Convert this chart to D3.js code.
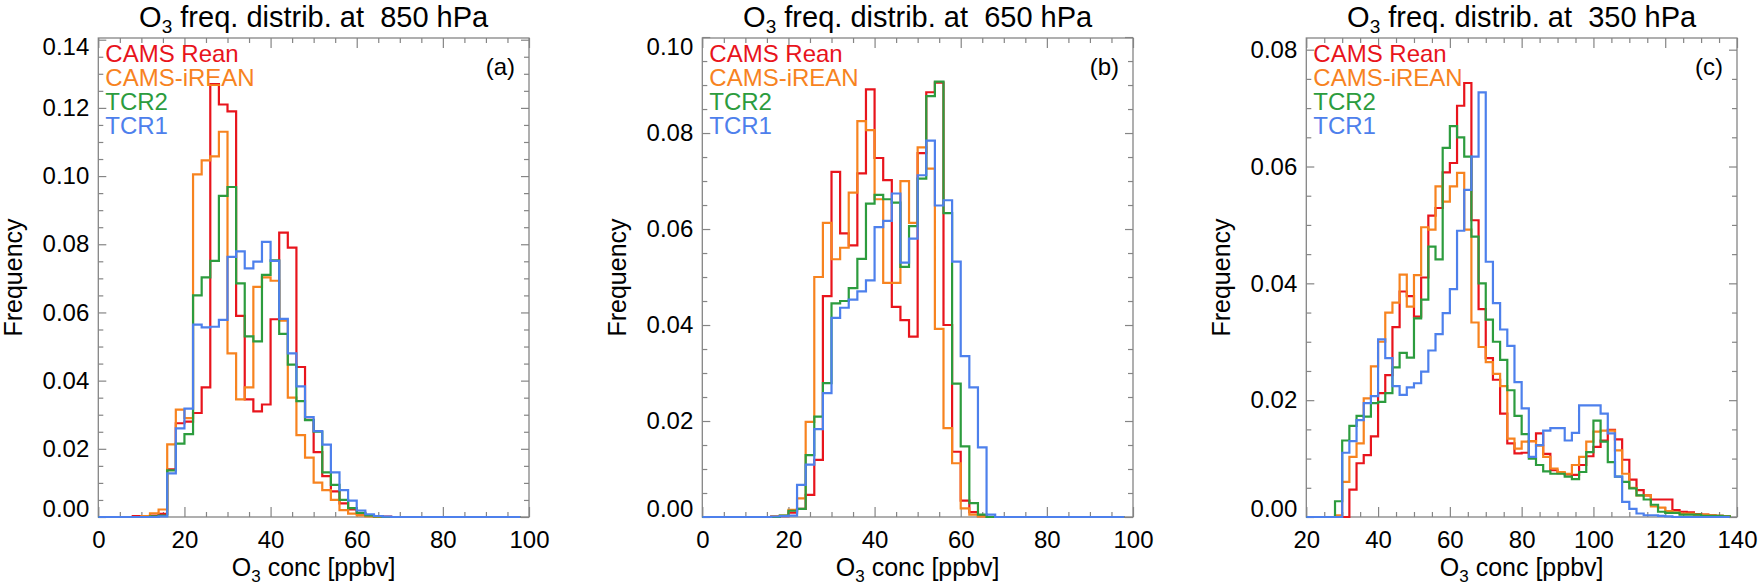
<!DOCTYPE html>
<html>
<head>
<meta charset="utf-8">
<script src="https://cdn.jsdelivr.net/npm/d3@7/dist/d3.min.js"></script>
<style>
  body { margin: 0; background: #fff; }
  svg text { font-family: "Liberation Sans", Arial, Helvetica, sans-serif; }
</style>
</head>
<body>
<svg id="chart" width="1762" height="586"></svg>
<script>
// series shared by the three panels
const seriesNames = ["CAMS Rean", "CAMS-iREAN", "TCR2", "TCR1"];
const seriesColors = ["#e8141c", "#f7831f", "#2c9c3e", "#4d80ec"];
const binWidth = 2; // ppbv

const levels = ["850", "650", "350"];
const panelTags = ["(a)", "(b)", "(c)"];
const xTicksAB = [0, 20, 40, 60, 80, 100];
const xTicksC = [20, 40, 60, 80, 100, 120, 140];
const yTicksA = [0, 0.02, 0.04, 0.06, 0.08, 0.10, 0.12, 0.14];
const yTicksB = [0, 0.02, 0.04, 0.06, 0.08, 0.10];
const yTicksC = [0, 0.02, 0.04, 0.06, 0.08];

// (a) 850 hPa, first bin starts at 8 ppbv
const binStartA = 8;
const reanA = [0.0003, 0.0003, 0.0004, 0.0009, 0.014, 0.0275, 0.028, 0.0305, 0.038, 0.127, 0.121, 0.119, 0.059, 0.0345, 0.031, 0.033, 0.058, 0.0834, 0.079, 0.044, 0.0285, 0.019, 0.012, 0.0075, 0.004, 0.0022, 0.001, 0.0005, 0.0002, 0.0001];
const ireanA = [0, 0.0003, 0.0011, 0.0022, 0.0213, 0.0315, 0.029, 0.1005, 0.1046, 0.1058, 0.113, 0.048, 0.0345, 0.038, 0.0675, 0.0703, 0.0693, 0.0576, 0.035, 0.024, 0.0174, 0.0101, 0.0079, 0.005, 0.002, 0.001, 0.0005, 0.0002, 0, 0];
const tcr2A = [0, 0, 0.0002, 0.0004, 0.0137, 0.0215, 0.0243, 0.065, 0.0703, 0.0751, 0.0942, 0.0968, 0.0685, 0.053, 0.0515, 0.071, 0.0753, 0.0537, 0.0447, 0.034, 0.0284, 0.025, 0.0131, 0.0094, 0.005, 0.0026, 0.0012, 0.0005, 0.0002, 0];
const tcr1A = [0, 0, 0, 0.0002, 0.0128, 0.026, 0.0318, 0.0564, 0.0556, 0.0558, 0.0578, 0.0763, 0.0779, 0.0729, 0.0749, 0.0807, 0.0751, 0.0581, 0.048, 0.0383, 0.0293, 0.0252, 0.0212, 0.0131, 0.0079, 0.0048, 0.0019, 0.0008, 0.0003, 0.0001];

// (b) 650 hPa, first bin starts at 16 ppbv
const binStartB = 16;
const reanB = [0, 0.0002, 0.0009, 0.0017, 0.0046, 0.0119, 0.046, 0.0719, 0.0591, 0.0566, 0.0716, 0.0891, 0.0748, 0.0702, 0.0438, 0.041, 0.0376, 0.0758, 0.0885, 0.0905, 0.040, 0.0136, 0.0034, 0.001, 0.0002, 0];
const ireanB = [0.0002, 0.0003, 0.0015, 0.0039, 0.0198, 0.050, 0.0613, 0.0537, 0.0561, 0.0676, 0.0825, 0.0806, 0.0662, 0.0488, 0.0488, 0.070, 0.0613, 0.077, 0.0726, 0.0392, 0.0185, 0.0112, 0.0018, 0.0005, 0.0001, 0];
const tcr2B = [0, 0.0003, 0.0013, 0.0017, 0.0129, 0.0209, 0.0279, 0.0445, 0.045, 0.0477, 0.0538, 0.0653, 0.0671, 0.0662, 0.0655, 0.0521, 0.0606, 0.0705, 0.0877, 0.0907, 0.0633, 0.0278, 0.0147, 0.0029, 0.0005, 0];
const tcr1B = [0.0001, 0.0002, 0.0003, 0.0067, 0.0109, 0.0183, 0.0258, 0.0415, 0.0436, 0.0453, 0.047, 0.0493, 0.0604, 0.0617, 0.0674, 0.053, 0.058, 0.0712, 0.0784, 0.0649, 0.066, 0.0532, 0.0335, 0.027, 0.0145, 0.0005];

// (c) 350 hPa, first bin starts at 28 ppbv
const binStartC = 28;
const reanC = [0, 0, 0.0047, 0.0092, 0.0106, 0.0138, 0.0212, 0.0243, 0.0325, 0.0386, 0.0378, 0.0343, 0.041, 0.0516, 0.0529, 0.059, 0.0606, 0.0704, 0.0743, 0.0508, 0.0356, 0.0272, 0.0235, 0.0177, 0.0126, 0.0109, 0.011, 0.013, 0.0143, 0.0108, 0.008, 0.0075, 0.0073, 0.0072, 0.0089, 0.0104, 0.012, 0.0131, 0.0149, 0.0133, 0.0098, 0.0064, 0.0046, 0.0037, 0.003, 0.003, 0.003, 0.0012, 0.0009, 0.0008, 0.0005, 0.0004, 0.0003, 0.0002, 0.0001];
const ireanC = [0.0003, 0.006, 0.0103, 0.0126, 0.0203, 0.0258, 0.030, 0.035, 0.0367, 0.0415, 0.036, 0.0414, 0.0496, 0.0492, 0.0566, 0.054, 0.0566, 0.0589, 0.0492, 0.0333, 0.0291, 0.0265, 0.0245, 0.0224, 0.0134, 0.0117, 0.0129, 0.013, 0.0122, 0.0103, 0.0083, 0.0077, 0.0074, 0.0089, 0.0103, 0.0129, 0.0146, 0.0148, 0.0148, 0.0114, 0.0074, 0.005, 0.0037, 0.0037, 0.0018, 0.0016, 0.001, 0.0008, 0.0006, 0.0006, 0.0004, 0.0004, 0.0003, 0.0002, 0.0001];
const tcr2C = [0.0027, 0.0131, 0.0156, 0.0173, 0.0172, 0.0195, 0.0197, 0.0212, 0.0256, 0.0281, 0.0273, 0.034, 0.0372, 0.0463, 0.0441, 0.0632, 0.0669, 0.065, 0.0617, 0.048, 0.040, 0.0338, 0.030, 0.0269, 0.0217, 0.0173, 0.0142, 0.010, 0.0089, 0.0078, 0.0074, 0.0074, 0.0069, 0.0065, 0.0077, 0.0111, 0.0165, 0.0129, 0.0094, 0.0069, 0.006, 0.0049, 0.0037, 0.003, 0.0021, 0.0009, 0.0007, 0.0007, 0.0004, 0.0004, 0.0004, 0.0002, 0.0002, 0.0002, 0.0001];
const tcr1C = [0, 0.011, 0.013, 0.0166, 0.0195, 0.0207, 0.0304, 0.0272, 0.0224, 0.0209, 0.0222, 0.0229, 0.0249, 0.0285, 0.0313, 0.0349, 0.039, 0.049, 0.056, 0.0617, 0.0727, 0.0437, 0.0366, 0.0321, 0.0293, 0.0231, 0.0186, 0.0103, 0.0123, 0.0148, 0.0152, 0.0152, 0.0131, 0.0144, 0.0191, 0.0191, 0.0191, 0.0177, 0.0143, 0.0069, 0.0026, 0.0014, 0.0006, 0.0003, 0.0003, 0.0002, 0.0001, 0, 0, 0, 0, 0, 0, 0, 0];

const panels = [
  { xDomain: [0, 100], xTicks: xTicksAB, yMax: 0.1405, yTicks: yTicksA, binStart: binStartA, lineEnd: 98, series: [reanA, ireanA, tcr2A, tcr1A] },
  { xDomain: [0, 100], xTicks: xTicksAB, yMax: 0.0998, yTicks: yTicksB, binStart: binStartB, lineEnd: 98, series: [reanB, ireanB, tcr2B, tcr1B] },
  { xDomain: [20, 140], xTicks: xTicksC, yMax: 0.082, yTicks: yTicksC, binStart: binStartC, lineEnd: 138, series: [reanC, ireanC, tcr2C, tcr1C] },
];

const svg = d3.select("#chart");
const axisGrey = "#858585";
const plotW = 430.7;
const plotTop = 38;
const plotBottom = 517;
const fmt = d3.format(".2f");

const styleAxis = (sel) => {
  sel.select(".domain").remove();
  sel.selectAll(".tick line").attr("stroke", axisGrey).attr("stroke-width", 1.2);
  sel.selectAll(".tick text").attr("fill", "#000").attr("font-size", 24);
};

panels.forEach((p, i) => {
  const left = 98.3 + i * 604;
  const right = left + plotW;
  const x = d3.scaleLinear().domain(p.xDomain).range([left, right]);
  const y = d3.scaleLinear().domain([0, p.yMax]).range([plotBottom, plotTop]);
  const g = svg.append("g");

  const xMinor = d3.range(p.xDomain[0], p.xDomain[1] + 0.1, 5).filter((v) => !p.xTicks.includes(v));
  const yMinor = d3.range(0, p.yMax + 1e-9, 0.005)
    .map((v) => +v.toFixed(3))
    .filter((v) => !p.yTicks.some((t) => Math.abs(t - v) < 1e-9));

  // 刻度朝内，四边都有
  g.append("g").attr("transform", `translate(0,${plotBottom})`)
    .call(d3.axisBottom(x).tickValues(xMinor).tickSize(-5).tickFormat("")).call(styleAxis);
  g.append("g").attr("transform", `translate(0,${plotBottom})`)
    .call(d3.axisBottom(x).tickValues(p.xTicks).tickSize(-10).tickPadding(14).tickFormat((d) => d))
    .call(styleAxis);
  g.append("g").attr("transform", `translate(0,${plotTop})`)
    .call(d3.axisTop(x).tickValues(xMinor).tickSize(-5).tickFormat("")).call(styleAxis);
  g.append("g").attr("transform", `translate(0,${plotTop})`)
    .call(d3.axisTop(x).tickValues(p.xTicks).tickSize(-10).tickFormat("")).call(styleAxis);

  g.append("g").attr("transform", `translate(${left},0)`)
    .call(d3.axisLeft(y).tickValues(yMinor).tickSize(-5).tickFormat("")).call(styleAxis);
  const yAxis = g.append("g").attr("transform", `translate(${left},0)`)
    .call(d3.axisLeft(y).tickValues(p.yTicks).tickSize(-8).tickPadding(9).tickFormat(fmt))
    .call(styleAxis);
  // labels at the box edges are pushed inside the plot height
  yAxis.selectAll(".tick text").attr("y", (d) => {
    const pos = y(d);
    if (pos - plotTop < 8.5) return 8.5 - (pos - plotTop);
    if (plotBottom - pos < 8.5) return -(8.5 - (plotBottom - pos));
    return 0;
  });
  g.append("g").attr("transform", `translate(${right},0)`)
    .call(d3.axisRight(y).tickValues(yMinor).tickSize(-5).tickFormat("")).call(styleAxis);
  g.append("g").attr("transform", `translate(${right},0)`)
    .call(d3.axisRight(y).tickValues(p.yTicks).tickSize(-8).tickFormat("")).call(styleAxis);

  g.append("rect")
    .attr("x", left).attr("y", plotTop)
    .attr("width", plotW).attr("height", plotBottom - plotTop)
    .attr("fill", "none").attr("stroke", axisGrey).attr("stroke-width", 1.3);

  // step histograms
  const line = d3.line().x((d) => x(d[0])).y((d) => y(d[1])).curve(d3.curveStepAfter);
  p.series.forEach((vals, k) => {
    const pts = [[p.xDomain[0], 0]];
    vals.forEach((v, j) => pts.push([p.binStart + j * binWidth, v]));
    pts.push([p.binStart + vals.length * binWidth, 0]);
    pts.push([p.lineEnd, 0]);
    g.append("path")
      .datum(pts)
      .attr("d", line)
      .attr("fill", "none")
      .attr("stroke", seriesColors[k])
      .attr("stroke-width", 2.2)
      .attr("stroke-linejoin", "miter");
  });

  // legend
  seriesNames.forEach((name, k) => {
    g.append("text")
      .attr("x", left + 7)
      .attr("y", 61.5 + k * 24)
      .attr("font-size", 24)
      .attr("fill", seriesColors[k])
      .text(name);
  });

  g.append("text")
    .attr("x", right - 14)
    .attr("y", 75)
    .attr("text-anchor", "end")
    .attr("font-size", 24)
    .text(panelTags[i]);

  // title
  const title = g.append("text")
    .attr("x", (left + right) / 2)
    .attr("y", 27)
    .attr("text-anchor", "middle")
    .attr("font-size", 29)
    .style("white-space", "pre");
  title.append("tspan").text("O");
  title.append("tspan").attr("font-size", 19).attr("dy", 6).text("3");
  title.append("tspan").attr("dy", -6).text(` freq. distrib. at  ${levels[i]} hPa`);

  const xTitle = g.append("text")
    .attr("x", (left + right) / 2)
    .attr("y", 576)
    .attr("text-anchor", "middle")
    .attr("font-size", 25);
  xTitle.append("tspan").text("O");
  xTitle.append("tspan").attr("font-size", 17).attr("dy", 6).text("3");
  xTitle.append("tspan").attr("dy", -6).text(" conc [ppbv]");

  g.append("text")
    .attr("transform", `translate(${left - 76},${(plotTop + plotBottom) / 2}) rotate(-90)`)
    .attr("text-anchor", "middle")
    .attr("font-size", 25)
    .text("Frequency");
});
</script>
</body>
</html>
